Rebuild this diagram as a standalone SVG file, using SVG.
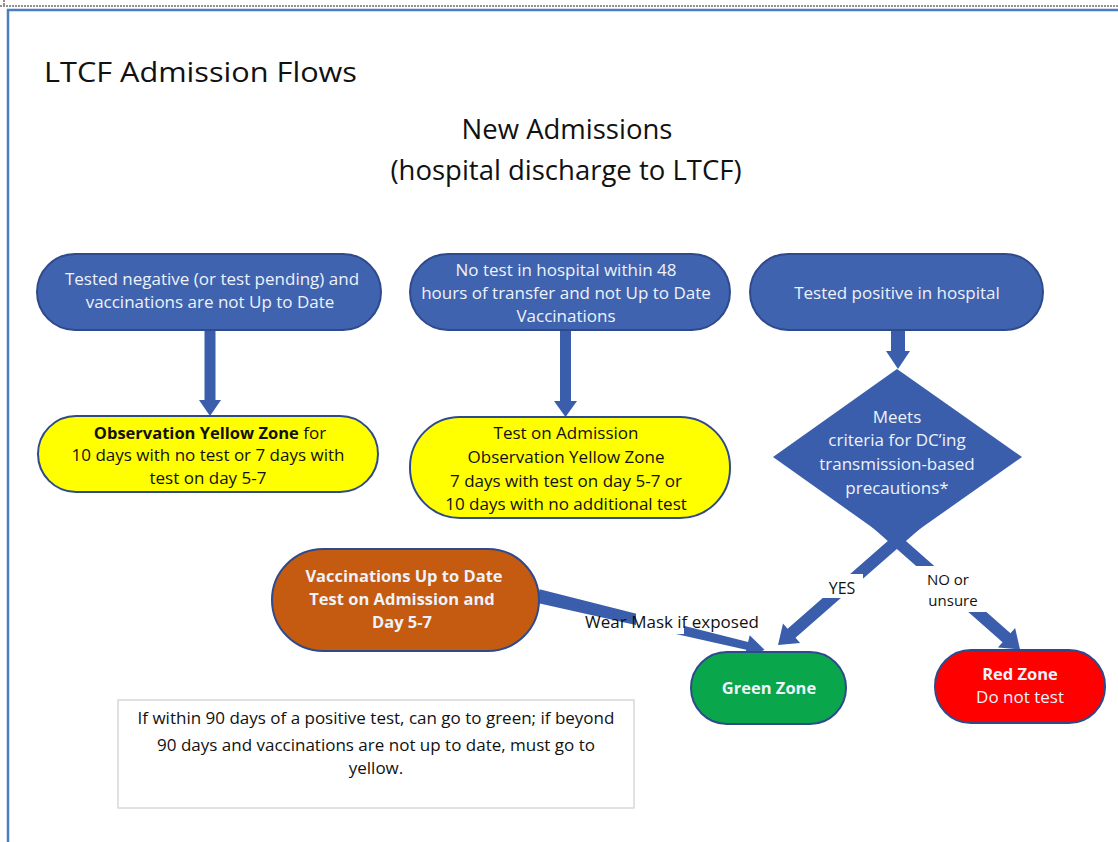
<svg xmlns="http://www.w3.org/2000/svg" width="1118" height="842" viewBox="0 0 1118 842">
<defs>
<style>
.t{font-family:"Open Sans","Liberation Sans",Arial,sans-serif;text-anchor:middle}
.bn{fill:#3f63ae;stroke:#2f4a8c;stroke-width:2}
.wt{fill:#eef2fa;font-size:17px}
.bk{fill:#111;font-size:17px}
.b{font-weight:bold;font-size:16.5px}
.ar{fill:#3a5eac}
.lbl{fill:#111;font-size:16px}
</style>
</defs>
<rect width="1118" height="842" fill="#ffffff"/>
<line x1="0" y1="6" x2="1118" y2="6" stroke="#222" stroke-width="1" stroke-dasharray="2,1"/>
<line x1="4" y1="0" x2="4" y2="6" stroke="#222" stroke-width="1" stroke-dasharray="2,1"/>
<path d="M8,842 V10 H1118" fill="none" stroke="#4a7bc3" stroke-width="2.5"/>

<g id="titles">
<text x="44" y="82" style="font-family:'Open Sans','Liberation Sans',Arial,sans-serif;font-size:27px" fill="#111" textLength="313" lengthAdjust="spacingAndGlyphs">LTCF Admission Flows</text>
<text class="t" x="567" y="139" style="font-size:27.5px" fill="#111">New Admissions</text>
<text class="t" x="566" y="180" style="font-size:27.5px" fill="#111">(hospital discharge to LTCF)</text>
</g>

<g id="connectors">
<polygon class="ar" points="204.5,330 215.5,330 215.5,400 221,400 210,416 199,400 204.5,400"/>
<polygon class="ar" points="560,330 571,330 571,401 577,401 565.5,417 554,401 560,401"/>
<polygon class="ar" points="891,330 905,330 905,351 910,351 898,369 886,351 891,351"/>
<g transform="translate(930,512) rotate(138.8)">
<polygon class="ar" points="0,-6 184,-6 184,-13 202,0 184,13 184,6 0,6"/>
</g>
<g transform="translate(864,512) rotate(41.4)">
<polygon class="ar" points="0,-6 190,-6 190,-13 208,0 190,13 190,6 0,6"/>
</g>
<g transform="translate(538,596) rotate(13.4)">
<polygon class="ar" points="0,-7 215,-4 215,-11 233,0 215,11 215,4 0,7"/>
</g>
<rect x="821" y="574" width="42" height="24" fill="#fff"/>
<text class="t lbl" x="842" y="594">YES</text>
<rect x="916" y="566" width="70" height="46" fill="#fff"/>
<text class="t lbl" x="948" y="585" style="font-size:15px">NO or</text>
<text class="t lbl" x="953" y="606" style="font-size:15px">unsure</text>
<rect x="636" y="606" width="48" height="28" fill="#fff"/>
<text class="t lbl" x="672" y="628" style="font-size:17px">Wear Mask if exposed</text>
</g>

<g id="n1">
<rect class="bn" x="37" y="254" width="344" height="76" rx="38"/>
<text class="t wt" x="212" y="285">Tested negative (or test pending) and</text>
<text class="t wt" x="210" y="308">vaccinations are not Up to Date</text>
</g>
<g id="n2">
<rect class="bn" x="410" y="254" width="320" height="76" rx="38"/>
<text class="t wt" x="566" y="276">No test in hospital within 48</text>
<text class="t wt" x="566" y="299">hours of transfer and not Up to Date</text>
<text class="t wt" x="566" y="322">Vaccinations</text>
</g>
<g id="n3">
<rect class="bn" x="750" y="254" width="293" height="76" rx="38"/>
<text class="t wt" x="897" y="299">Tested positive in hospital</text>
</g>

<g id="y1">
<rect x="38" y="416" width="340" height="76" rx="38" fill="#ffff00" stroke="#2f4a8c" stroke-width="2"/>
<text class="t bk" x="210" y="439"><tspan class="b">Observation Yellow Zone</tspan> for</text>
<text class="t bk" x="208" y="461">10 days with no test or 7 days with</text>
<text class="t bk" x="208" y="484">test on day 5-7</text>
</g>
<g id="y2">
<rect x="410" y="417" width="320" height="101" rx="50" fill="#ffff00" stroke="#2f4a8c" stroke-width="2"/>
<text class="t bk" x="566" y="439">Test on Admission</text>
<text class="t bk" x="566" y="463">Observation Yellow Zone</text>
<text class="t bk" x="566" y="487">7 days with test on day 5-7 or</text>
<text class="t bk" x="566" y="510">10 days with no additional test</text>
</g>

<g id="diamond">
<polygon class="ar" points="897,369 1022,457 897,545 773,457"/>
<text class="t wt" x="897" y="423">Meets</text>
<text class="t wt" x="897" y="446">criteria for DC’ing</text>
<text class="t wt" x="897" y="470">transmission-based</text>
<text class="t wt" x="897" y="494">precautions*</text>
</g>

<g id="orange">
<rect x="272" y="549" width="267" height="102" rx="51" fill="#c55a11" stroke="#2f4a8c" stroke-width="2"/>
<text class="t wt b" x="404" y="582">Vaccinations Up to Date</text>
<text class="t wt b" x="402" y="605">Test on Admission and</text>
<text class="t wt b" x="402" y="628">Day 5-7</text>
</g>

<g id="green">
<rect x="691" y="652" width="155" height="72" rx="36" fill="#0aa64b" stroke="#2f4a8c" stroke-width="2"/>
<text class="t wt b" x="769" y="694">Green Zone</text>
</g>
<g id="red">
<rect x="935" y="650" width="170" height="73" rx="36" fill="#ff0000" stroke="#2f4a8c" stroke-width="2"/>
<text class="t wt b" x="1020" y="680">Red Zone</text>
<text class="t wt" x="1020" y="703" fill="#fde9d9">Do not test</text>
</g>

<g id="note">
<rect x="118" y="700" width="516" height="108" fill="#fff" stroke="#d8d8d8" stroke-width="1.5"/>
<text class="t bk" x="376" y="724">If within 90 days of a positive test, can go to green; if beyond</text>
<text class="t bk" x="376" y="751">90 days and vaccinations are not up to date, must go to</text>
<text class="t bk" x="376" y="774">yellow.</text>
</g>
</svg>
